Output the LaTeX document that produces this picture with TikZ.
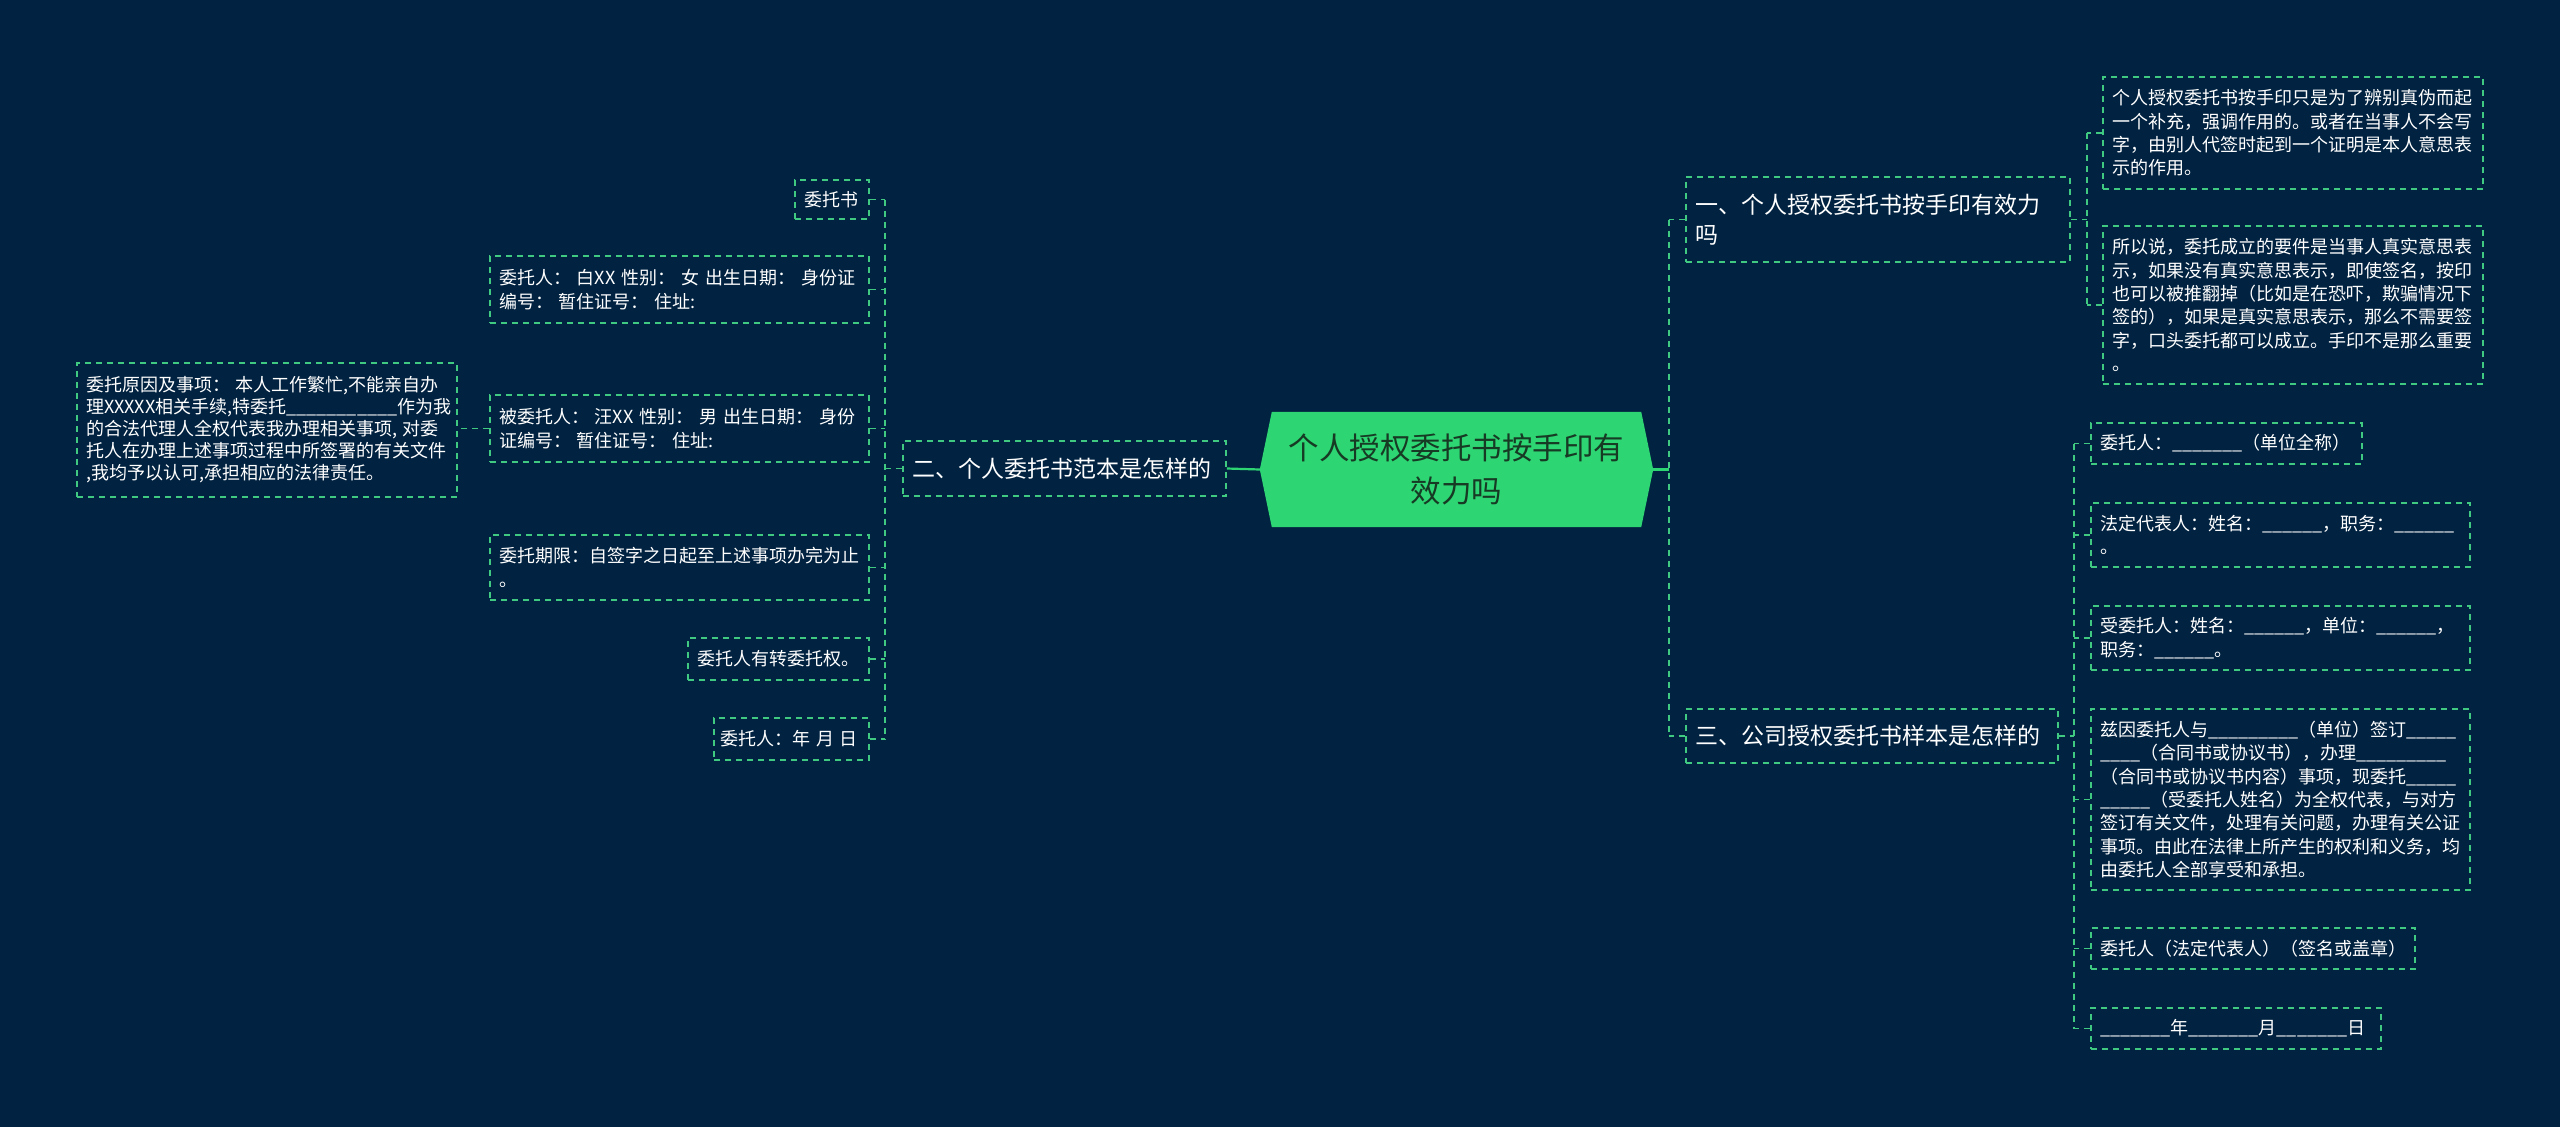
\documentclass[tikz,border=0pt]{standalone}
\usepackage{fontspec}
\setmainfont{Noto Sans CJK SC}
\usetikzlibrary{calc}
\definecolor{bg}{RGB}{1,34,64}
\definecolor{lg}{RGB}{64,201,128}
\definecolor{cg}{RGB}{46,213,115}
\definecolor{ct}{RGB}{22,58,36}
\begin{document}
\begin{tikzpicture}[x=1pt,y=-1pt,
  box/.style={draw=lg, line width=1.6pt, dash pattern=on 6pt off 5pt, text=white,
    inner xsep=9pt, inner ysep=0pt, align=left, font=\fontsize{18}{23.3}\selectfont},
  brbox/.style={box, font=\fontsize{23}{30}\selectfont},
  conn/.style={draw=lg, line width=1.6pt, dash pattern=on 6pt off 5pt},
  mainconn/.style={draw=cg, line width=2.2pt}]
\fill[bg] (0,0) rectangle (2560,1127);
\useasboundingbox (0,0) rectangle (2560,1127);

% central
\node[minimum width=393pt, minimum height=115pt, inner sep=0pt] (ctr) at (1456.5,469.5) {};
\fill[cg] ($(ctr.north west)+(12,0)$) -- (ctr.west) -- ($(ctr.south west)+(12,0)$)
  -- ($(ctr.south east)+(-12,0)$) -- (ctr.east) -- ($(ctr.north east)+(-12,0)$) -- cycle;
\node[text=ct, align=center, font=\fontsize{30.5}{43}\selectfont] (ctrtext) at (ctr) {个人授权委托书按手印有\\效力吗};

% branches
\node[brbox, minimum width=323pt, minimum height=55pt, text width=305pt] (b2) at (1064.5,468.5) {二、个人委托书范本是怎样的};
\node[brbox, minimum width=384pt, minimum height=85pt, text width=366pt] (b1) at (1878,219.5) {一、个人授权委托书按手印有效力\\吗};
\node[brbox, minimum width=372pt, minimum height=54pt, text width=354pt] (b3) at (1872,736) {三、公司授权委托书样本是怎样的};

% left children
\node[box, minimum width=74pt, minimum height=39pt, text width=56pt] (L1) at (832,199.5) {委托书};
\node[box, minimum width=379pt, minimum height=67pt, text width=361pt] (L2) at (679.5,289.5) {委托人： 白XX 性别： 女 出生日期： 身份证\\编号： 暂住证号： 住址:};
\node[box, minimum width=379pt, minimum height=67pt, text width=361pt] (L3) at (679.5,428.5) {被委托人： 汪XX 性别： 男 出生日期： 身份\\证编号： 暂住证号： 住址:};
\node[box, minimum width=379pt, minimum height=65pt, text width=361pt] (L4) at (679.5,567.5) {委托期限：自签字之日起至上述事项办完为止\\。};
\node[box, minimum width=181pt, minimum height=42pt, text width=163pt] (L5) at (778.5,659) {委托人有转委托权。};
\node[box, minimum width=155pt, minimum height=42pt, inner xsep=6pt, text width=143pt] (L6) at (791.5,739) {委托人：年~月~日};
\node[box, font=\fontsize{18}{22}\selectfont, minimum width=380pt, minimum height=134pt, text width=362pt] (LG) at (267,430) {委托原因及事项： 本人工作繁忙,不能亲自办\\理XXXXX相关手续,特委托\_\_\_\_\_\_\_\_\_\_\_作为我\\的合法代理人全权代表我办理相关事项, 对委\\托人在办理上述事项过程中所签署的有关文件\\,我均予以认可,承担相应的法律责任。};

% right children of b1
\node[box, minimum width=380pt, minimum height=112pt, text width=362pt] (Ra) at (2293,133) {个人授权委托书按手印只是为了辨别真伪而起\\一个补充，强调作用的。或者在当事人不会写\\字，由别人代签时起到一个证明是本人意思表\\示的作用。};
\node[box, minimum width=380pt, minimum height=158pt, text width=362pt] (Rb) at (2293,305) {所以说，委托成立的要件是当事人真实意思表\\示，如果没有真实意思表示，即使签名，按印\\也可以被推翻掉（比如是在恐吓，欺骗情况下\\签的），如果是真实意思表示，那么不需要签\\字，口头委托都可以成立。手印不是那么重要\\。};

% right children of b3
\node[box, minimum width=271pt, minimum height=41pt, text width=253pt] (Rc) at (2226.5,443.5) {委托人：\_\_\_\_\_\_\_（单位全称）};
\node[box, minimum width=379pt, minimum height=64pt, text width=361pt] (Rd) at (2280.5,535) {法定代表人：姓名：\_\_\_\_\_\_，职务：\_\_\_\_\_\_\\。};
\node[box, minimum width=379pt, minimum height=64pt, text width=361pt] (Re) at (2280.5,638) {受委托人：姓名：\_\_\_\_\_\_，单位：\_\_\_\_\_\_，\\职务：\_\_\_\_\_\_。};
\node[box, minimum width=379pt, minimum height=181pt, text width=361pt] (Rf) at (2280.5,799.5) {兹因委托人与\_\_\_\_\_\_\_\_\_（单位）签订\_\_\_\_\_\\\_\_\_\_（合同书或协议书），办理\_\_\_\_\_\_\_\_\_\\（合同书或协议书内容）事项，现委托\_\_\_\_\_\\\_\_\_\_\_（受委托人姓名）为全权代表，与对方\\签订有关文件，处理有关问题，办理有关公证\\事项。由此在法律上所产生的权利和义务，均\\由委托人全部享受和承担。};
\node[box, minimum width=324pt, minimum height=41pt, text width=306pt] (Rg) at (2253,948.5) {委托人（法定代表人）（签名或盖章）};
\node[box, minimum width=290pt, minimum height=41pt, text width=272pt] (Rh) at (2236,1028.5) {\_\_\_\_\_\_\_年\_\_\_\_\_\_\_月\_\_\_\_\_\_\_日};

% spines
\coordinate (spL) at (885,0);
\coordinate (spR) at (1669,0);
\coordinate (sp1) at (2087,0);
\coordinate (sp3) at (2074,0);

% left connectors
\draw[mainconn] (ctr.west) -- (b2.east);
\draw[conn] (b2.west) -- (b2.west -| spL);
\draw[conn] (L1.east -| spL) -- (L6.east -| spL);
\foreach \n in {L1,L2,L3,L4,L5,L6} \draw[conn] (\n.east) -- (\n.east -| spL);
\draw[conn] (L3.west) -- (L3.west -| LG.east);

% right connectors
\draw[mainconn] (ctr.east) -- (ctr.east -| spR);
\draw[conn] (b1.west -| spR) -- (b3.west -| spR);
\draw[conn] (b1.west) -- (b1.west -| spR);
\draw[conn] (b3.west) -- (b3.west -| spR);

\draw[conn] (b1.east) -- (b1.east -| sp1);
\draw[conn] (Ra.west -| sp1) -- (Rb.west -| sp1);
\foreach \n in {Ra,Rb} \draw[conn] (\n.west) -- (\n.west -| sp1);

\draw[conn] (b3.east) -- (b3.east -| sp3);
\draw[conn] (Rc.west -| sp3) -- (Rh.west -| sp3);
\foreach \n in {Rc,Rd,Re,Rf,Rg,Rh} \draw[conn] (\n.west) -- (\n.west -| sp3);
\end{tikzpicture}
\end{document}
